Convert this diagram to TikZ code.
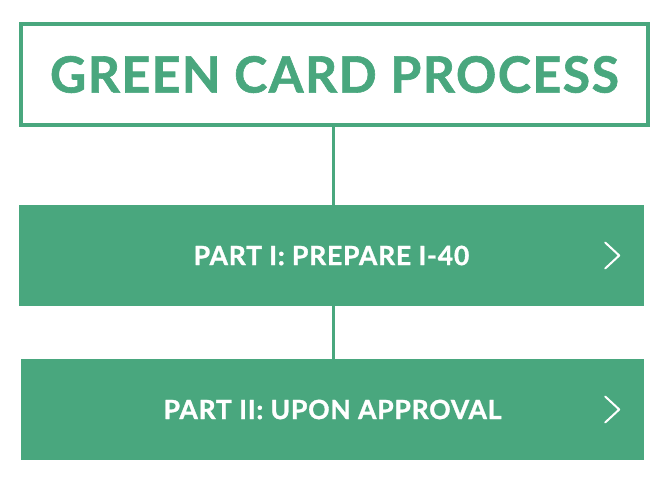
\documentclass[tikz,border=0pt]{standalone}
\usepackage{fontspec}
\setmainfont{Lato}[UprightFont=* Bold, UprightFeatures={FakeBold=1.2}, LetterSpace=3]
\usetikzlibrary{calc}
\definecolor{cardgreen}{HTML}{49A77E}

\begin{document}
\begin{tikzpicture}[x=1pt,y=-1pt]
\useasboundingbox (0,0) rectangle (667,481);

\node[draw=cardgreen, line width=4pt, inner sep=0pt, minimum width=627pt, minimum height=101pt, text=cardgreen] (title) at (334.5,74.5) {\fontsize{50}{50}\selectfont GREEN CARD PROCESS};

\node[fill=cardgreen, inner sep=0pt, minimum width=625pt, minimum height=101pt, text=white] (part1) at (331.5,255.5) {\fontsize{26.5}{26.5}\selectfont PART I: PREPARE I-40};
\node[fill=cardgreen, inner sep=0pt, minimum width=623pt, minimum height=101pt, text=white] (part2) at (332.5,409.5) {\fontsize{26.5}{26.5}\selectfont PART II: UPON APPROVAL};

\draw[cardgreen, line width=3pt] (title.south -| 333,0) -- (part1.north -| 333,0);
\draw[cardgreen, line width=3pt] (part1.south -| 333,0) -- (part2.north -| 333,0);

% chevrons
\draw[white, line width=2pt, line cap=round, line join=round] ($(part1.east)+(-39,-13)$) -- ++(14,13) -- ++(-14,13);
\draw[white, line width=2pt, line cap=round, line join=round] ($(part2.east)+(-39,-13)$) -- ++(14,13) -- ++(-14,13);

\end{tikzpicture}
\end{document}
